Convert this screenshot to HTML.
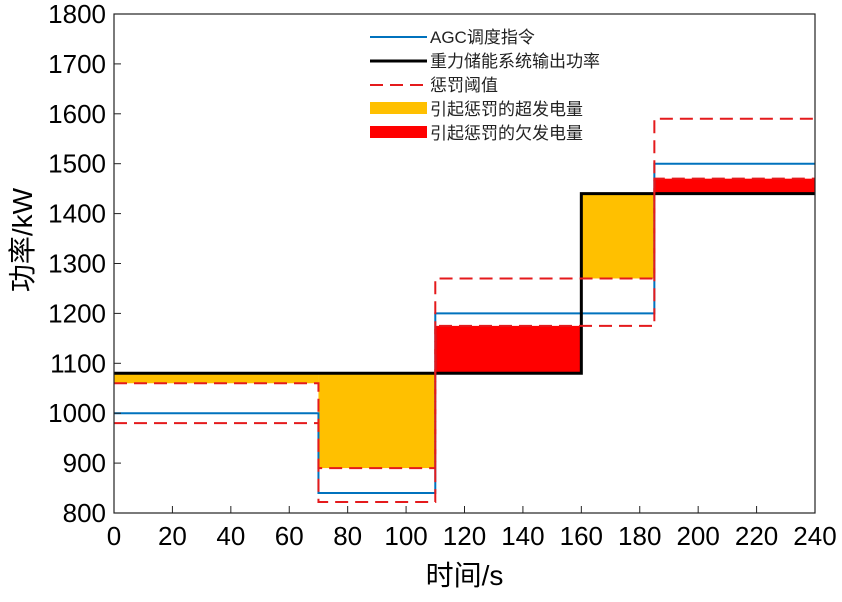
<!DOCTYPE html>
<html><head><meta charset="utf-8"><style>
body{margin:0;background:#fff}
svg text{font-family:"Liberation Sans","Noto Sans CJK SC",sans-serif}
</style></head><body>
<svg id="chart" width="842" height="597" xmlns="http://www.w3.org/2000/svg">
<g id="fills"></g><g id="lines"></g><g id="axes"></g>
<g font-size="17" fill="#222">
 <line x1="370" y1="37" x2="427" y2="37" stroke="#0072BD" stroke-width="2"/>
 <text x="430" y="43">AGC调度指令</text>
 <line x1="370" y1="61" x2="427" y2="61" stroke="#000" stroke-width="3"/>
 <text x="430" y="67">重力储能系统输出功率</text>
 <line x1="370" y1="85" x2="427" y2="85" stroke="#e41a1c" stroke-width="2" stroke-dasharray="13,7"/>
 <text x="430" y="91">惩罚阈值</text>
 <rect x="370" y="102" width="57" height="12" fill="#FFC000"/>
 <text x="430" y="115">引起惩罚的超发电量</text>
 <rect x="370" y="126" width="57" height="12" fill="#FF0000"/>
 <text x="430" y="139">引起惩罚的欠发电量</text>
</g>
</svg>
<script>
const segEdges=[0,70,110,160,185,240];
const agc=[1000,840,1200,1200,1500];
const output=[1080,1080,1080,1440,1440];
const upperTh=[1060,890,1270,1270,1590];
const lowerTh=[980,822,1175,1175,1470];
const xTicks=[0,20,40,60,80,100,120,140,160,180,200,220,240];
const yTicks=[800,900,1000,1100,1200,1300,1400,1500,1600,1700,1800];
const L=114,R=815,T=14,B=513;
const sx=v=>L+(v-0)/240*(R-L);
const sy=v=>B-(v-800)/1000*(B-T);
const NS="http://www.w3.org/2000/svg";
function mk(tag,attrs,parent){const e=document.createElementNS(NS,tag);for(const k in attrs)e.setAttribute(k,attrs[k]);parent.appendChild(e);return e;}
const fills=document.getElementById('fills'),lines=document.getElementById('lines'),axes=document.getElementById('axes');
for(let i=0;i<agc.length;i++){
  const x0=sx(segEdges[i]),x1=sx(segEdges[i+1]);
  let top,bot,col,name;
  if(output[i]>upperTh[i]){top=output[i];bot=upperTh[i];col='#FFC000';name='over-generation-area';}
  else if(output[i]<lowerTh[i]){top=lowerTh[i];bot=output[i];col='#FF0000';name='under-generation-area';}
  else continue;
  const r=mk('rect',{x:x0,y:sy(top),width:x1-x0,height:sy(bot)-sy(top),fill:col},fills);
  
  
}
function stepPath(vals){let d='';for(let i=0;i<vals.length;i++){const x0=sx(segEdges[i]),x1=sx(segEdges[i+1]),y=sy(vals[i]);d+=(i===0?'M':'L')+x0+','+y+'L'+x1+','+y;}return d;}
const pa=mk('path',{d:stepPath(agc),fill:'none',stroke:'#0072BD','stroke-width':2},lines);


const po=mk('path',{d:stepPath(output),fill:'none',stroke:'#000','stroke-width':3},lines);


for(const th of [upperTh,lowerTh]){
  const p=mk('path',{d:stepPath(th),fill:'none',stroke:'#e41a1c','stroke-width':2,'stroke-dasharray':'13,7'},lines);
  
  
}
const box=mk('rect',{x:L,y:T,width:R-L,height:B-T,fill:'none',stroke:'#222','stroke-width':1.2},axes);


xTicks.forEach(v=>{
  const x=sx(v);
  mk('line',{x1:x,y1:B,x2:x,y2:B-7,stroke:'#222'},axes);
  const t=mk('text',{x:x,y:B+32,'font-size':26,'text-anchor':'middle'},axes);t.textContent=v;
  
  
});
yTicks.forEach(v=>{
  const y=sy(v);
  mk('line',{x1:L,y1:y,x2:L+7,y2:y,stroke:'#222'},axes);
  const t=mk('text',{x:L-8,y:y+9,'font-size':26,'text-anchor':'end'},axes);t.textContent=v;
  
  
});
const xt=mk('text',{x:(L+R)/2,y:585,'font-size':28,'text-anchor':'middle'},axes);xt.textContent='时间/s';


const yt=mk('text',{x:0,y:0,'font-size':28,'text-anchor':'middle',transform:'translate(32,240) rotate(-90)'},axes);yt.textContent='功率/kW';


</script>
</body></html>
